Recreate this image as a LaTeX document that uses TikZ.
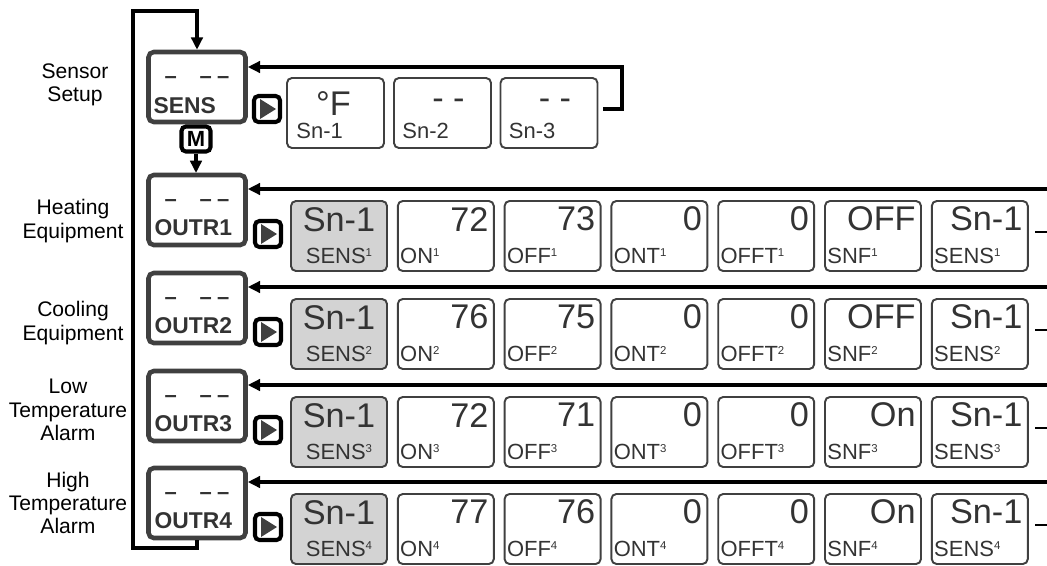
\documentclass[tikz,border=0pt]{standalone}
\usepackage{fontspec}
\setmainfont{Liberation Sans}
\usetikzlibrary{arrows.meta,calc}
\definecolor{boxgray}{HTML}{404040}
\definecolor{txtgray}{HTML}{333333}
\definecolor{cellgray}{HTML}{D3D3D3}
\newcommand\rowsup[1]{\raisebox{4pt}{\fontsize{6.5}{7}\selectfont #1}}
\tikzset{
  mode/.style   = {rectangle, draw=boxgray, line width=2.6pt, rounded corners=3pt, minimum width=1.94cm, minimum height=1.4cm, inner sep=0},
  cell/.style   = {rectangle, draw=boxgray, line width=1.1pt, rounded corners=2.8pt, minimum width=1.92cm, minimum height=1.4cm, inner sep=0},
  scell/.style  = {cell, minimum width=1.94cm},
  gcell/.style  = {cell, fill=cellgray},
  btn/.style    = {rectangle, draw=black, line width=2.3pt, rounded corners=2.5pt, minimum size=0.52cm, inner sep=0},
  mbtn/.style   = {btn, fill=white, minimum width=0.58cm, minimum height=0.5cm, font=\bfseries\fontsize{12.5}{12}\selectfont},
  tri/.style    = {fill=boxgray},
  flow/.style   = {line width=1.9pt, -{Triangle[length=7pt,width=6.5pt]}},
  stub/.style   = {line width=1.5pt},
  val/.style    = {inner sep=0, text=txtgray, font=\fontsize{19.5}{20}\selectfont},
  lab/.style    = {inner sep=0, text=txtgray, font=\fontsize{12.5}{13}\selectfont},
  mname/.style  = {inner sep=0, text=txtgray, font=\bfseries\fontsize{13}{13}\selectfont},
  dashes/.style = {inner sep=0, text=txtgray, font=\bfseries\fontsize{12.5}{13}\selectfont},
  side/.style   = {align=center, inner sep=0, font=\fontsize{12}{13.2}\selectfont}
}

\begin{document}
\begin{tikzpicture}[x=0.02cm, y=-0.02cm]
  \useasboundingbox (0,0) rectangle (1047,565);

  % sensor setup
  \node[side] at (75,85) {Sensor\\Setup};
  \node[mode] (sens) at (197,87) {};
  \node[dashes] at ($(sens.north)+(0,30)$) {–\hspace{13pt}–\hspace{3pt}–};
  \node[mname, anchor=base west] at ($(sens.south west)+(7,-11)$) {SENS};
  \node[btn] (b0) at (267,109) {};
  \fill[tri] ($(b0.center)+(-7,-10)$) -- ++(0,20) -- ++(16,-10) -- cycle;
  \node[mbtn] (m) at (196,139) {M};
  \draw[flow] (m.south) -- (m.south |- 0,173);

  \node[scell] (sn1) at (335.5,113) {};
  \node[val] at ($(sn1.north)+(-2,26)$) {°F};
  \node[lab, anchor=base west] at ($(sn1.south west)+(10,-10)$) {Sn-1};
  \node[scell] (sn2) at (442.5,113) {};
  \node[val] at ($(sn2.north)+(6,27)$) {- -};
  \node[lab, anchor=base west] at ($(sn2.south west)+(9,-10)$) {Sn-2};
  \node[scell] (sn3) at (549,113) {};
  \node[val] at ($(sn3.north)+(6,27)$) {- -};
  \node[lab, anchor=base west] at ($(sn3.south west)+(9,-10)$) {Sn-3};

  \coordinate (sret) at (603,109);
  \coordinate (scorner) at (622,67);
  \draw[flow] (sret) -| (scorner) -- (scorner -| sens.east);

  % outputs
  \node[side] at (73,221) {Heating\\Equipment};
  \node[side] at (73,323) {Cooling\\Equipment};
  \node[side] at (68,410) {Low\\Temperature\\Alarm};
  \node[side] at (68,503) {High\\Temperature\\Alarm};

  \foreach \r/\y/\va/\vb/\vf in {1/189/72/73/OFF, 2/287/76/75/OFF, 3/385/72/71/On, 4/482/77/76/On}{
    \node[mode] (outr\r) at (197,\y+21) {};
    \node[dashes] at ($(outr\r.north)+(0,30)$) {–\hspace{13pt}–\hspace{3pt}–};
    \node[mname, anchor=base west] at ($(outr\r.south west)+(8,-12)$) {OUTR\r};
    \node[btn] (b\r) at (268,\y+45) {};
    \fill[tri] ($(b\r.center)+(-7,-10)$) -- ++(0,20) -- ++(16,-10) -- cycle;
    \node[gcell] (c\r1) at (339,\y+47) {};
    \node[val] at ($(c\r1.north)+(0,20)$) {Sn-1};
    \node[lab, anchor=base] at ($(c\r1.south)+(0,-8)$) {SENS\rowsup{\r}};
    \foreach \c/\v/\l in {2/\va/ON, 3/\vb/OFF, 4/0/ONT, 5/0/OFFT, 6/\vf/SNF, 7/Sn-1/SENS}{
      \node[cell] (c\r\c) at ({339+106.8*(\c-1)},{\y+47}) {};
      \node[val, anchor=east] at ($(c\r\c.north east)+(-6,19)$) {\v};
      \node[lab, anchor=base west] at ($(c\r\c.south west)+(3,-8)$) {\l\rowsup{\r}};
    }
    \coordinate (in\r) at (1047,\y);
    \draw[flow] (in\r) -- (in\r -| outr\r.east);
    \coordinate (out\r) at (1047,\y+43);
    \draw[stub] (out\r) -- ++(-12,0);
  }

  % back to the top
  \coordinate (lbot) at (133,548);
  \coordinate (ltop) at (133,11);
  \draw[flow] (outr4.south) |- (lbot) -- (ltop) -| (sens.north);
\end{tikzpicture}
\end{document}
